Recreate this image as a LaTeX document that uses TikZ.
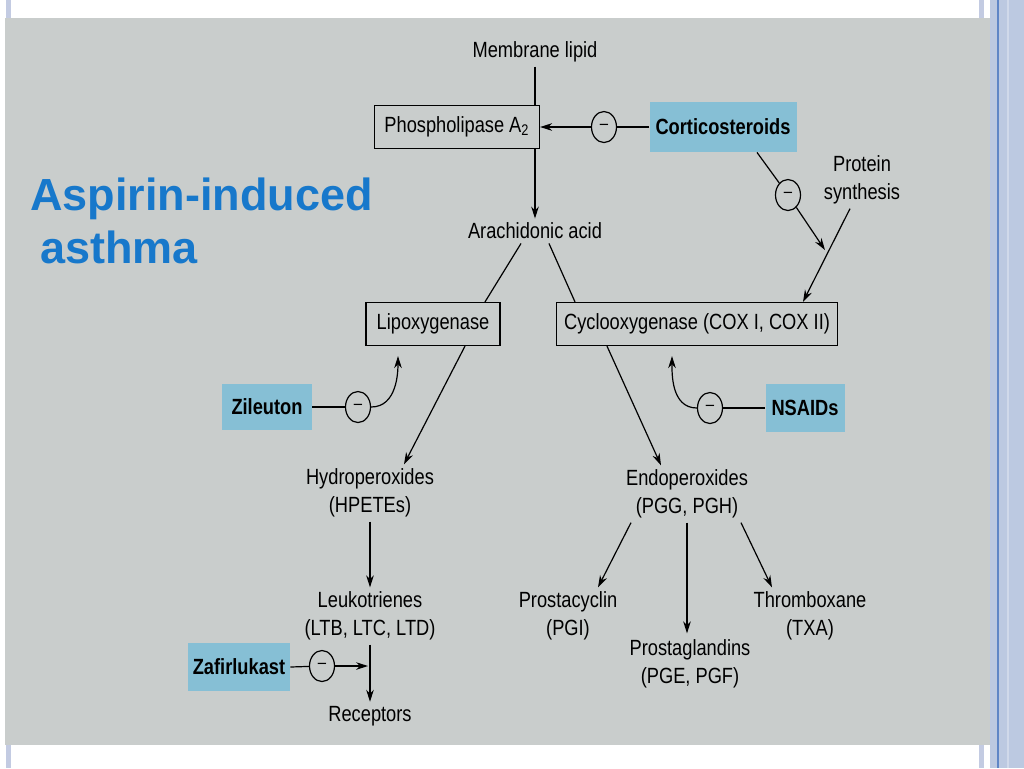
\documentclass[tikz,border=0pt]{standalone}
\usepackage{fontspec}
\usetikzlibrary{arrows.meta,shapes.geometric,calc}
\newfontfamily\diagfont{Liberation Sans}[FakeStretch=0.83]
\newfontfamily\titlefont{Liberation Sans}
\definecolor{scangray}{HTML}{C9CDCC}
\definecolor{drugblue}{HTML}{86BFD5}
\definecolor{titleblue}{HTML}{1778CB}
\definecolor{stripblue}{HTML}{BCC9E1}
\definecolor{stripline}{HTML}{5F86C6}
\definecolor{edgeblue}{HTML}{C3CBE2}
\tikzset{
  lbl/.style={font=\diagfont\fontsize{11}{14}\selectfont, align=center, inner sep=2pt},
  enzyme/.style={lbl, draw, line width=0.6pt, minimum height=21.5pt},
  drug/.style={lbl, fill=drugblue, font=\diagfont\bfseries\fontsize{11}{14}\selectfont, minimum height=24pt},
  inhib/.style={ellipse, draw, line width=0.6pt, minimum width=12.5pt, minimum height=15.5pt, inner sep=0pt, font=\diagfont\fontsize{9}{9}\selectfont},
  conn/.style={line width=0.6pt},
}
\begin{document}
\begin{tikzpicture}[x=0.5pt,y=-0.5pt,>={Stealth[length=6pt,width=3.8pt]}]
  \useasboundingbox (0,0) rectangle (1024,768);
  % slide and scanned page
  \fill[white] (0,0) rectangle (1024,768);
  \fill[edgeblue] (979,0) rectangle (984,768);
  \fill[edgeblue] (6,0) rectangle (11,768);
  \fill[scangray] (5,18) rectangle (990,745);
  \fill[stripblue] (990,0) rectangle (1024,768);
  \draw[line width=1pt,stripline] (998,0) -- (998,768);
  \draw[line width=0.8pt,stripblue!70!white] (1008,0) -- (1008,768);

  \node[anchor=base west,inner sep=0pt,text=titleblue,font=\titlefont\bfseries\fontsize{22.5}{26}\selectfont] (title1) at (30,210) {Aspirin-induced};
  \node[anchor=base west,inner sep=0pt,text=titleblue,font=\titlefont\bfseries\fontsize{22.5}{26}\selectfont] (title2) at (40,263) {asthma};

  % pathway
  \node[lbl] (mem) at (535,52) {Membrane lipid};
  \node[enzyme,minimum width=82.5pt] (pla) at (457,127) {Phospholipase A\textsubscript{2}};
  \node[drug,minimum width=73.5pt,minimum height=25pt] (cort) at (723,127) {Corticosteroids};
  \node[inhib] (inh1) at (604,127) {\textendash};
  \node[lbl] (prot) at (862,180) {Protein\\synthesis};
  \node[inhib] (inh2) at (788,195) {\textendash};
  \coordinate (psend) at (825,250);
  \node[lbl] (aa) at (535,231) {Arachidonic acid};
  \node[enzyme,minimum width=67pt] (lox) at (433,324) {Lipoxygenase};
  \node[enzyme,minimum width=140.5pt] (cox) at (697,324) {Cyclooxygenase (COX I, COX II)};
  \node[drug,minimum width=45pt,minimum height=23pt] (zil) at (267,407) {Zileuton};
  \node[inhib] (inh3) at (358,407) {\textendash};
  \node[drug,minimum width=39.5pt] (nsaid) at (805,408) {NSAIDs};
  \node[inhib] (inh4) at (710,408) {\textendash};
  \node[lbl] (hpete) at (370,493) {Hydroperoxides\\(HPETEs)};
  \node[lbl] (leuk) at (370,616) {Leukotrienes\\(LTB, LTC, LTD)};
  \node[drug,minimum width=51pt] (zaf) at (239,667) {Zafirlukast};
  \node[inhib] (inh5) at (322,666) {\textendash};
  \node[lbl] (rec) at (370,716) {Receptors};
  \node[lbl] (endo) at (687,494) {Endoperoxides\\(PGG, PGH)};
  \node[lbl] (pgi) at (568,616) {Prostacyclin\\(PGI)};
  \node[lbl] (pge) at (690,664) {Prostaglandins\\(PGE, PGF)};
  \node[lbl] (txa) at (810,616) {Thromboxane\\(TXA)};

  \draw[conn] (mem.south) -- (mem.south |- pla.north);
  \draw[conn,->] (mem.south |- pla.south) -- (aa.north);
  \draw[conn] (cort.west) -- (inh1);
  \draw[conn,->] (inh1) -- (pla.east);
  \draw[conn] ([xshift=17pt]cort.south) -- (inh2);
  \draw[conn,->] (inh2) -- (psend);
  \draw[conn,->] ([xshift=-6pt]prot.south) -- ([xshift=53pt]cox.north);
  \draw[conn] ([xshift=-7pt]aa.south) -- ([xshift=26pt]lox.north);
  \draw[conn] ([xshift=7pt]aa.south) -- ([xshift=-61pt]cox.north);
  \draw[conn] (zil.east) -- (inh3);
  \draw[conn,->,shorten >=5pt] (inh3.east) to[out=0,in=-90] ([xshift=-17.5pt]lox.south);
  \draw[conn,->] ([xshift=16pt]lox.south) -- ([xshift=17pt]hpete.north);
  \draw[conn] (nsaid.west) -- (inh4);
  \draw[conn,->,shorten >=5pt] (inh4.west) to[out=180,in=-90] ([xshift=-12.5pt]cox.south);
  \draw[conn,->] ([xshift=-45pt]cox.south) -- ([xshift=-13pt]endo.north);
  \draw[conn,->] (hpete.south) -- (leuk.north);
  \draw[conn] (zaf.east) -- (inh5);
  \draw[conn,->] (inh5) -- ([xshift=-1pt]leuk.south |- inh5);
  \draw[conn,->] (leuk.south) -- (rec.north);
  \draw[conn,->] ([xshift=-28pt]endo.south) -- ([xshift=15pt]pgi.north);
  \draw[conn,->,shorten >=1pt] (endo.south) -- (endo.south |- pge.north);
  \draw[conn,->] ([xshift=27pt]endo.south) -- ([xshift=-19pt]txa.north);
\end{tikzpicture}
\end{document}
